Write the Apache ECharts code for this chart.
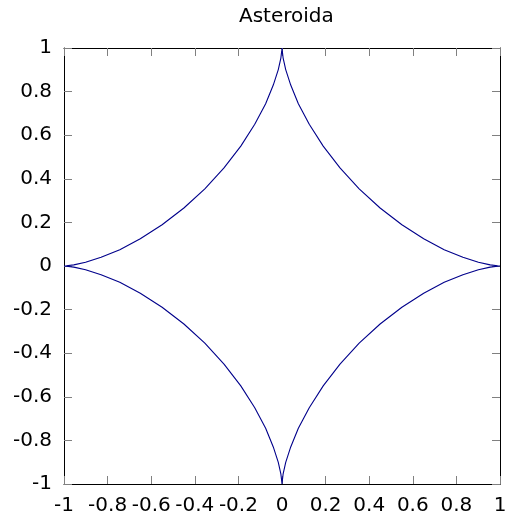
<!DOCTYPE html>
<html>
<head>
<meta charset="utf-8">
<script src="https://cdn.jsdelivr.net/npm/echarts@6/dist/echarts.min.js"></script>
<style>html,body{margin:0;padding:0;background:#fff}#c{width:516px;height:523px}</style>
</head>
<body>
<div id="c"></div>
<script>
var titleText = 'Asteroida';
var xTicks = [-1, -0.8, -0.6, -0.4, -0.2, 0, 0.2, 0.4, 0.6, 0.8, 1];
var yTicks = [-1, -0.8, -0.6, -0.4, -0.2, 0, 0.2, 0.4, 0.6, 0.8, 1];
var curveX = [
  1, .989, .955, .901, .830, .744, .650, .550, .450, .354, .266, .189, .125, .075, .040, .017, .005, .001, 0,
  -.001, -.005, -.017, -.040, -.075, -.125, -.189, -.266, -.354, -.450, -.550, -.650, -.744, -.830, -.901, -.955, -.989, -1,
  -.989, -.955, -.901, -.830, -.744, -.650, -.550, -.450, -.354, -.266, -.189, -.125, -.075, -.040, -.017, -.005, -.001, 0,
  .001, .005, .017, .040, .075, .125, .189, .266, .354, .450, .550, .650, .744, .830, .901, .955, .989, 1
];
var curveY = [
  0, .001, .005, .017, .040, .075, .125, .189, .266, .354, .450, .550, .650, .744, .830, .901, .955, .989, 1,
  .989, .955, .901, .830, .744, .650, .550, .450, .354, .266, .189, .125, .075, .040, .017, .005, .001, 0,
  -.001, -.005, -.017, -.040, -.075, -.125, -.189, -.266, -.354, -.450, -.550, -.650, -.744, -.830, -.901, -.955, -.989, -1,
  -.989, -.955, -.901, -.830, -.744, -.650, -.550, -.450, -.354, -.266, -.189, -.125, -.075, -.040, -.017, -.005, -.001, 0
];
var pts = curveX.map(function (x, i) { return [x, curveY[i]]; });
var font = 'DejaVu Sans';
function fmt(v) { return String(Math.round(v * 10) / 10); }
function axis(pos, isX, labels) {
  return {
    type: 'value', position: pos, min: -1, max: 1, interval: 0.2,
    axisLine: { show: true, onZero: false, lineStyle: { color: '#000', width: 1 } },
    axisTick: { show: true, inside: true, length: 8, lineStyle: { color: '#808080', width: 1 } },
    splitLine: { show: false },
    axisLabel: { show: labels, color: '#000', fontFamily: font, fontSize: 20, margin: 12, formatter: fmt }
  };
}
var chart = echarts.init(document.getElementById('c'), null, { renderer: 'canvas' });
chart.setOption({
  animation: false,
  title: { text: titleText, left: 234, top: 2,
    textStyle: { fontFamily: font, fontSize: 20, fontWeight: 'normal', color: '#000' } },
  grid: { left: 64, right: 16, top: 48, bottom: 39, containLabel: false },
  xAxis: [axis('bottom', true, true), axis('top', true, false)],
  yAxis: [axis('left', false, true), axis('right', false, false)],
  series: [{
    type: 'line', data: pts, showSymbol: false, symbol: 'none',
    lineStyle: { color: '#00008b', width: 1.1 }, xAxisIndex: 0, yAxisIndex: 0
  }]
});
</script>
</body>
</html>
